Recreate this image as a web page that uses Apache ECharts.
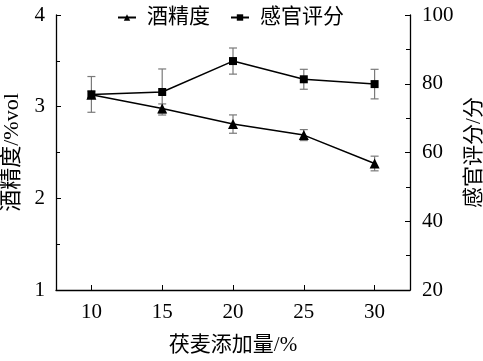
<!DOCTYPE html>
<html><head><meta charset="utf-8">
<script src="https://cdn.jsdelivr.net/npm/echarts@6/dist/echarts.min.js"></script>
<style>html,body{margin:0;padding:0;background:#fff}#c{width:483px;height:361px}</style>
</head><body><div id="c"></div>
<script>
var xValues = [10, 15, 20, 25, 30];
var alcohol = [3.13, 2.98, 2.81, 2.69, 2.38];
var alcoholErr = [0.04, 0.05, 0.10, 0.06, 0.08];
var score = [76.9, 77.6, 86.6, 81.3, 79.9];
var scoreErr = [5.2, 6.7, 3.8, 2.9, 4.3];
var xTicks = [10, 15, 20, 25, 30];

var serif = '"Liberation Serif","Times New Roman","Noto Sans CJK SC",serif';
function pairs(v){ return xValues.map(function(x,i){return [x, v[i]];}); }
function errData(v, e){ return xValues.map(function(x,i){return [x, v[i]-e[i], v[i]+e[i]];}); }
function errRender(params, api){
  var x = api.value(0), lo = api.value(1), hi = api.value(2);
  var p1 = api.coord([x, lo]), p2 = api.coord([x, hi]);
  var w = 4;
  var st = {stroke:'#7a7a7a', lineWidth:1.2};
  return {type:'group', children:[
    {type:'line', shape:{x1:p1[0],y1:p1[1],x2:p2[0],y2:p2[1]}, style:st},
    {type:'line', shape:{x1:p1[0]-w,y1:p1[1],x2:p1[0]+w,y2:p1[1]}, style:st},
    {type:'line', shape:{x1:p2[0]-w,y1:p2[1],x2:p2[0]+w,y2:p2[1]}, style:st}
  ]};
}
var chart = echarts.init(document.getElementById('c'));
var axisLine = {show:true, lineStyle:{color:'#000', width:1.3}};
chart.setOption({
  animation:false,
  textStyle:{fontFamily:serif},
  legend:{top:2, left:112, itemWidth:18, itemHeight:8, itemGap:20,
    textStyle:{fontSize:21, color:'#000', fontFamily:serif, padding:[0,0,0,6]},
    data:['酒精度','感官评分']},
  grid:{left:56, right:73, top:15, bottom:71, containLabel:false, outerBoundsMode:'none'},
  xAxis:{type:'value', min:7.5, max:32.5,
    name:'茯麦添加量/%', nameLocation:'middle', nameGap:45,
    nameTextStyle:{fontSize:21, color:'#000', fontFamily:serif},
    axisLine:axisLine,
    axisTick:{show:true, inside:true, length:5, customValues:xTicks, lineStyle:{color:'#000'}},
    axisLabel:{customValues:xTicks, fontSize:21, color:'#000', margin:12, fontFamily:serif},
    splitLine:{show:false}},
  yAxis:[
    {type:'value', min:1, max:4, interval:1, position:'left',
     name:'酒精度/%vol', nameLocation:'middle', nameGap:30,
     nameTextStyle:{fontSize:22, color:'#000', fontFamily:serif},
     axisLine:axisLine,
     axisTick:{show:true, inside:true, length:5, lineStyle:{color:'#000'}},
     minorTick:{show:true, splitNumber:2, length:4, lineStyle:{color:'#000'}},
     axisLabel:{fontSize:21, color:'#000', margin:11, fontFamily:serif},
     splitLine:{show:false}},
    {type:'value', min:20, max:100, interval:20, position:'right',
     name:'感官评分/分', nameLocation:'middle', nameGap:47,
     nameTextStyle:{fontSize:21, color:'#000', fontFamily:serif},
     axisLine:axisLine,
     axisTick:{show:true, inside:true, length:5, lineStyle:{color:'#000'}},
     minorTick:{show:true, splitNumber:2, length:4, lineStyle:{color:'#000'}},
     axisLabel:{fontSize:21, color:'#000', margin:12, fontFamily:serif},
     splitLine:{show:false}}
  ],
  series:[
    {type:'custom', yAxisIndex:0, renderItem:errRender, data:errData(alcohol, alcoholErr), z:1, silent:true},
    {type:'custom', yAxisIndex:1, renderItem:errRender, data:errData(score, scoreErr), z:1, silent:true},
    {name:'酒精度', type:'line', yAxisIndex:0, data:pairs(alcohol), symbol:'triangle', symbolSize:10,
     itemStyle:{color:'#000'}, lineStyle:{color:'#000', width:1.5}, z:3},
    {name:'感官评分', type:'line', yAxisIndex:1, data:pairs(score), symbol:'rect', symbolSize:8,
     itemStyle:{color:'#000'}, lineStyle:{color:'#000', width:1.5}, z:3}
  ]
});
</script></body></html>
